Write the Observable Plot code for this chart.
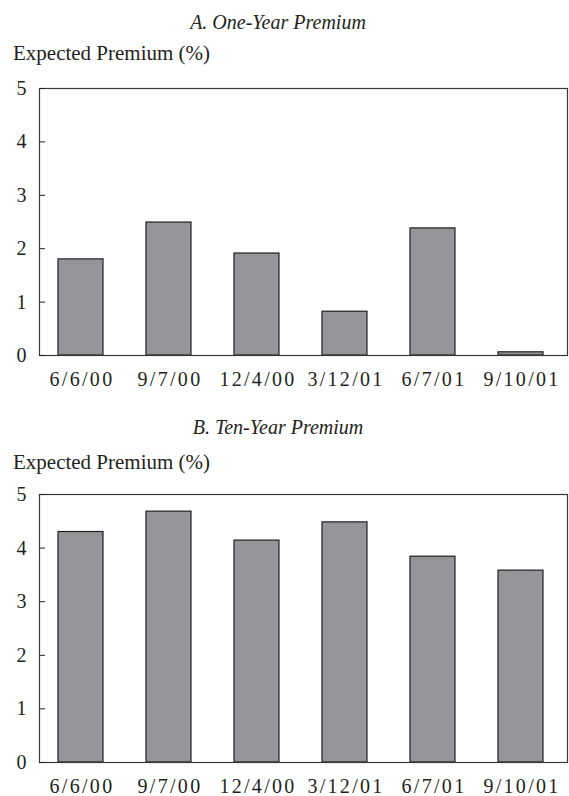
<!DOCTYPE html>
<html>
<head>
<meta charset="utf-8">
<script src="https://cdn.jsdelivr.net/npm/d3@7"></script>
<script src="https://cdn.jsdelivr.net/npm/@observablehq/plot@0.6"></script>
<style>
  html, body { margin: 0; padding: 0; background: #fff; }
  #wrap { position: relative; width: 569px; height: 796px; overflow: hidden; font-family: "Liberation Serif", serif; color: #231f20; }
  .title { position: absolute; left: 0; width: 556px; text-align: center; font-style: italic; font-size: 20px; line-height: 1; transform: translateY(-50%); }
  .ylab { position: absolute; left: 13px; font-size: 21px; line-height: 1; transform: translateY(-50%); white-space: nowrap; }
  .panel { position: absolute; left: 0; }
  .panel g[aria-label="x-axis tick label"] text { letter-spacing: 2.3px; }
</style>
</head>
<body>
<div id="wrap">
  <div class="title" style="top:22px">A. One-Year Premium</div>
  <div class="ylab" style="top:53px">Expected Premium (%)</div>
  <div class="panel" id="pa" style="top:70px"></div>
  <div class="title" style="top:427px">B. Ten-Year Premium</div>
  <div class="ylab" style="top:462px">Expected Premium (%)</div>
  <div class="panel" id="pb" style="top:476px"></div>
</div>
<script>
const dates = ["6/6/00", "9/7/00", "12/4/00", "3/12/01", "6/7/01", "9/10/01"];
const oneYear = [1.80, 2.49, 1.91, 0.82, 2.38, 0.06];
const tenYear = [4.30, 4.68, 4.14, 4.48, 3.84, 3.58];
const yTicks = [0, 1, 2, 3, 4, 5];

function panel(values, marginBottom) {
  const data = dates.map((d, i) => ({date: d, value: values[i]}));
  return Plot.plot({
    width: 569,
    height: 320,
    marginTop: 18,
    marginBottom: marginBottom,
    marginLeft: 39,
    marginRight: 2,
    style: {fontFamily: "Liberation Serif, serif", fontSize: "20px", color: "#231f20", background: "white", overflow: "visible"},
    x: {domain: dates, paddingInner: 0.49, paddingOuter: 0.245, align: 0.44, label: null},
    y: {domain: [0, 5], label: null},
    marks: [
      Plot.barY(data, {x: "date", y: "value", fill: "#939598", stroke: "#231f20", strokeWidth: 1.2}),
      Plot.frame({stroke: "#3a3a3a", strokeWidth: 1.2}),
      Plot.axisY({ticks: yTicks, tickSize: 6, dx: 6, text: null, strokeWidth: 1}),
      Plot.axisY({ticks: yTicks, tickSize: 0, tickPadding: 13, tickFormat: d => String(d), fontSize: 20}),
      Plot.axisX({tickSize: 0, tickPadding: 16, fontSize: 20, dx: 1})
    ]
  });
}

document.getElementById("pa").appendChild(panel(oneYear, 35));
document.getElementById("pb").appendChild(panel(tenYear, 34));
</script>
</body>
</html>
